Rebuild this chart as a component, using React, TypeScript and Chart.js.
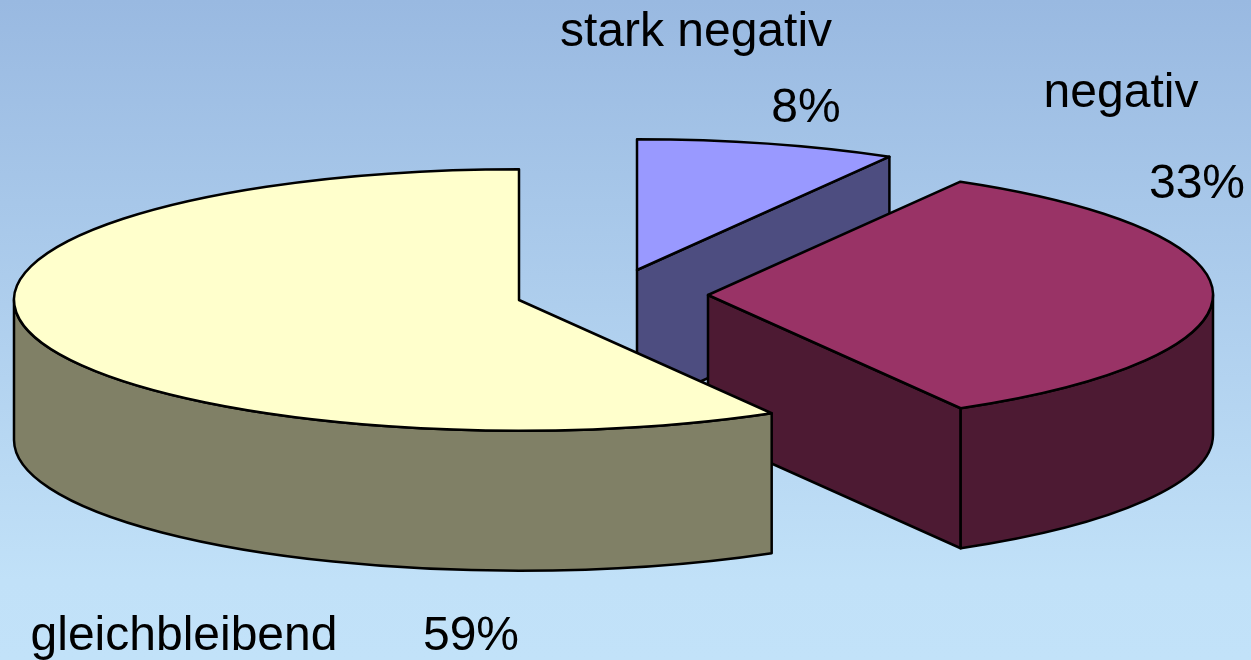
import React, { useEffect, useRef } from "react";
import { Chart, registerables } from "chart.js";

Chart.register(...registerables);

const categories = ["stark negativ", "negativ", "gleichbleibend"];
const percentLabels = ["8%", "33%", "59%"];
const sliceShares = [8.33, 33.33, 58.34];
const topColors = ["#9999ff", "#993366", "#ffffcc"];
const wallColors = ["#4d4d80", "#4d1a33", "#808066"];

const FLAT = 0.259;
const DEPTH = 140;
const RADIUS = 505;
const sliceCentres = [
  { x: 637, y: 270 },
  { x: 708, y: 295 },
  { x: 519, y: 300 },
];
const textSpots = [
  { name: [696, 46], pct: [806, 122] },
  { name: [1121, 107], pct: [1197, 198] },
  { name: [184, 650], pct: [471, 650] },
];

const pie3d = {
  id: "pie3d",
  beforeDraw(chart: any) {
    const { ctx, width, height } = chart;
    const g = ctx.createLinearGradient(0, 0, 0, height);
    g.addColorStop(0, "#99b9e1");
    g.addColorStop(0.88, "#c1e1f8");
    g.addColorStop(1, "#c2e2f9");
    ctx.save();
    ctx.fillStyle = g;
    ctx.fillRect(0, 0, width, height);
    ctx.restore();
  },
  beforeDatasetsDraw(chart: any) {
    const { ctx } = chart;
    const arcs = chart.getDatasetMeta(0).data;
    ctx.save();
    ctx.lineJoin = "round";
    ctx.lineWidth = 2.5;
    ctx.strokeStyle = "#000";
    arcs.forEach((arc: any, i: number) => {
      const c = sliceCentres[i];
      const s = arc.startAngle;
      const e = arc.endAngle;
      const r = arc.outerRadius;
      const px = (a: number) => c.x + Math.cos(a) * r;
      const py = (a: number) => c.y + Math.sin(a) * r * FLAT;
      const paint = (fill: string) => {
        ctx.fillStyle = fill;
        ctx.fill();
        ctx.stroke();
      };
      // cut faces that look toward the viewer
      const face = (a: number) => {
        ctx.beginPath();
        ctx.moveTo(c.x, c.y);
        ctx.lineTo(px(a), py(a));
        ctx.lineTo(px(a), py(a) + DEPTH);
        ctx.lineTo(c.x, c.y + DEPTH);
        ctx.closePath();
        paint(wallColors[i]);
      };
      if (Math.cos(s) < -1e-6) face(s);
      if (Math.cos(e) > 1e-6) face(e);
      // outer rim: the part of the arc on the front half
      const TAU = Math.PI * 2;
      for (let k = -1; k <= 1; k++) {
        const a0 = Math.max(s, k * TAU);
        const a1 = Math.min(e, k * TAU + Math.PI);
        if (a1 <= a0) continue;
        ctx.beginPath();
        ctx.ellipse(c.x, c.y, r, r * FLAT, 0, a0, a1);
        ctx.ellipse(c.x, c.y + DEPTH, r, r * FLAT, 0, a1, a0, true);
        ctx.closePath();
        paint(wallColors[i]);
      }
      // top surface, drawn by the arc element itself under a flattening transform
      ctx.save();
      ctx.translate(c.x, c.y);
      ctx.scale(1, FLAT);
      ctx.translate(-arc.x, -arc.y);
      arc.draw(ctx);
      ctx.restore();
      ctx.beginPath();
      ctx.moveTo(c.x, c.y);
      ctx.ellipse(c.x, c.y, r, r * FLAT, 0, s, e);
      ctx.closePath();
      ctx.stroke();
    });
    ctx.restore();
    return false;
  },
  afterDraw(chart: any) {
    const { ctx } = chart;
    ctx.save();
    ctx.fillStyle = "#000";
    ctx.font = '48px "Liberation Sans", Arial, sans-serif';
    ctx.textAlign = "center";
    ctx.textBaseline = "alphabetic";
    categories.forEach((name, i) => {
      const spot = textSpots[i];
      ctx.fillText(name, spot.name[0], spot.name[1]);
      ctx.fillText(percentLabels[i], spot.pct[0], spot.pct[1]);
    });
    ctx.restore();
  },
};

export default function App() {
  const ref = useRef<HTMLCanvasElement>(null);
  useEffect(() => {
    document.body.style.margin = "0";
    const chart = new Chart(ref.current as HTMLCanvasElement, {
      type: "pie",
      data: {
        labels: categories,
        datasets: [
          {
            data: sliceShares,
            backgroundColor: topColors,
            borderWidth: 0,
          },
        ],
      },
      options: {
        responsive: false,
        animation: false,
        events: [],
        radius: RADIUS,
        plugins: { legend: { display: false }, tooltip: { enabled: false } },
      },
      plugins: [pie3d],
    } as any);
    return () => chart.destroy();
  }, []);
  return <canvas ref={ref} width={1251} height={660} style={{ display: "block" }} />;
}
